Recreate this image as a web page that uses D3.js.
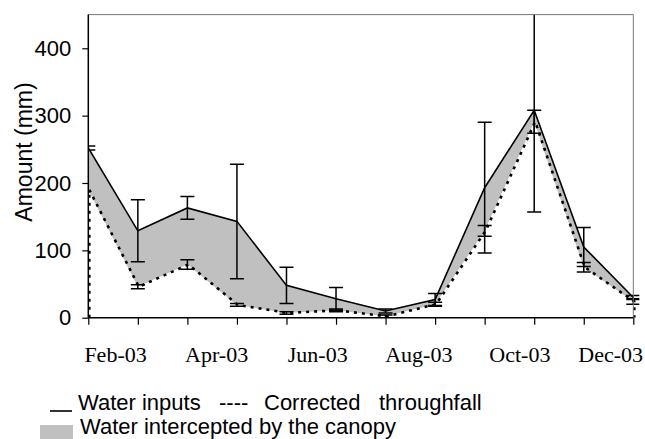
<!DOCTYPE html>
<html><head><meta charset="utf-8">
<script src="https://cdn.jsdelivr.net/npm/d3@7/dist/d3.min.js"></script>
<style>html,body{margin:0;padding:0;background:#fff;}svg{display:block;}</style>
</head><body><svg id="c" width="645" height="439"></svg>
<script>
const months = ["Feb-03","Mar-03","Apr-03","May-03","Jun-03","Jul-03","Aug-03","Sep-03","Oct-03","Nov-03","Dec-03","Jan-04"];
const tickLabels = ["Feb-03","Apr-03","Jun-03","Aug-03","Oct-03","Dec-03"];
const waterInputs = [252, 129, 163, 143, 48, 28, 10, 27, 193, 308, 105, 30];
const waterInputsErr = [3, 46, 17, 85, 27, 17, 3, 9, 97, 151, 29, 3];
const throughfall = [190, 46, 79, 19, 7, 11, 2, 20, 129, 291, 75, 24];
const throughfallErr = [0, 3, 7, 2, 2, 2, 2, 3, 8, 17, 7, 4];
const yTicks = [0, 100, 200, 300, 400];
const legendParts = ["Water inputs", "----", "Corrected", "throughfall"];

const svg = d3.select("#c");
const L = 88.3, R = 633.3, T = 14.6, B = 317.7;
const x = d3.scalePoint().domain(months).range([L, R]);
const y = d3.scaleLinear().domain([0, 450]).range([B, T]);

svg.append("defs").append("clipPath").attr("id","clip")
  .append("rect").attr("x", L).attr("y", T).attr("width", R - L + 6).attr("height", B - T);

const g = svg.append("g").attr("clip-path","url(#clip)");

// grey intercepted area
const area = d3.area()
  .x((d,i) => x(months[i]))
  .y0((d,i) => y(throughfall[i]))
  .y1((d,i) => y(waterInputs[i]));
g.append("path").datum(waterInputs).attr("d", area).attr("fill", "#c0c0c0");

// throughfall dotted line with vertical edges to zero
const tfPts = [{m: months[0], v: 0}]
  .concat(throughfall.map((v,i) => ({m: months[i], v})))
  .concat([{m: months[months.length-1], v: 0}]);
const line = d3.line().x(d => x(d.m)).y(d => y(d.v));
g.append("path").datum(tfPts).attr("d", line)
  .attr("fill","none").attr("stroke","#000").attr("stroke-width",2.6)
  .attr("stroke-dasharray","3,5").attr("transform","translate(1,0)");

// water inputs solid line
g.append("path").datum(waterInputs.map((v,i) => ({m: months[i], v})))
  .attr("d", line).attr("fill","none").attr("stroke","#000").attr("stroke-width",1.6);

// error bars
function errBars(vals, errs) {
  vals.forEach((v,i) => {
    if (!errs[i]) return;
    const cx = x(months[i]);
    const lo = y(Math.max(0, v - errs[i])), hi = y(v + errs[i]);
    g.append("line").attr("x1",cx).attr("x2",cx).attr("y1",lo).attr("y2",hi)
      .attr("stroke","#000").attr("stroke-width",1.5);
    [lo, hi].forEach(yy => g.append("line").attr("x1",cx-7).attr("x2",cx+7)
      .attr("y1",yy).attr("y2",yy).attr("stroke","#000").attr("stroke-width",1.5));
  });
}
errBars(throughfall, throughfallErr);
errBars(waterInputs, waterInputsErr);

// frame (top, right)
svg.append("line").attr("x1",L).attr("x2",R).attr("y1",T).attr("y2",T).attr("stroke","#777").attr("stroke-width",1);
svg.append("line").attr("x1",R).attr("x2",R).attr("y1",T).attr("y2",B).attr("stroke","#777").attr("stroke-width",1);

// y axis
const yAxis = svg.append("g").attr("transform",`translate(${L},0)`)
  .call(d3.axisLeft(y).tickValues(yTicks).tickSize(6).tickPadding(11).tickFormat(d3.format("d")));
yAxis.select(".domain").attr("stroke","#000").attr("stroke-width",1.5).attr("d",`M0,${B}V${T}`);
yAxis.selectAll(".tick line").attr("stroke","#000").attr("stroke-width",1.2);
yAxis.selectAll(".tick text").attr("font-family","Liberation Sans, Arial, sans-serif").attr("font-size",22).attr("fill","#000");

// x axis (ticks only)
const xAxis = svg.append("g").attr("transform",`translate(0,${B})`)
  .call(d3.axisBottom(x).tickSize(7).tickFormat(""));
xAxis.select(".domain").attr("stroke","#000").attr("stroke-width",1.5).attr("d",`M${L},0H${R}`);
xAxis.selectAll(".tick line").attr("stroke","#000").attr("stroke-width",1.2);

// x tick labels (placed between ticks, like the original)
const step = x.step();
tickLabels.forEach((lab, k) => {
  const t = svg.append("text").text(lab)
    .attr("font-family","Liberation Serif, Times New Roman, serif").attr("font-size",22)
    .attr("fill","#000").attr("text-anchor","middle").attr("y", 362);
  let cx = x(lab) + step * 0.55 + k * 2;
  const w = t.node().getComputedTextLength();
  if (cx + w/2 > 643) cx = 643 - w/2;
  t.attr("x", cx);
});

// y title
svg.append("text").text("Amount (mm)")
  .attr("font-family","Liberation Sans, Arial, sans-serif").attr("font-size",23)
  .attr("fill","#000").attr("text-anchor","middle")
  .attr("transform","translate(32,152) rotate(-90)");

// legend
const lg = svg.append("g").attr("font-family","Liberation Sans, Arial, sans-serif").attr("font-size",22).attr("fill","#000");
lg.append("line").attr("x1",50).attr("x2",72).attr("y1",411).attr("y2",411).attr("stroke","#000").attr("stroke-width",1.6);
const partX = [78, 219, 264, 379];
legendParts.forEach((p, i) => lg.append("text").attr("x", partX[i]).attr("y", 410).text(p));
lg.append("rect").attr("x",40).attr("y",425).attr("width",33).attr("height",14).attr("fill","#c0c0c0");
lg.append("text").attr("x",80).attr("y",434).text("Water intercepted by the canopy");
</script></body></html>
